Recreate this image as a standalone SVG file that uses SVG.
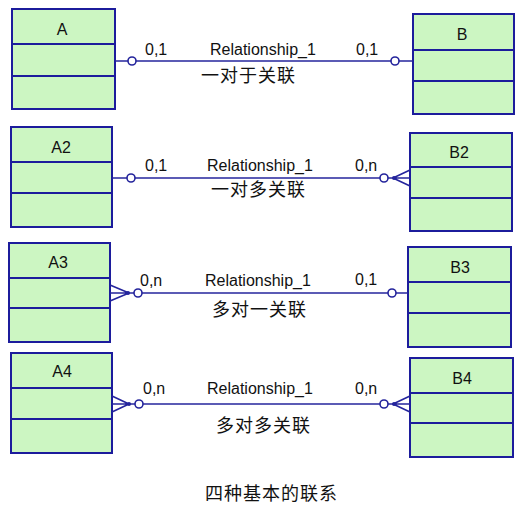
<svg xmlns="http://www.w3.org/2000/svg" width="520" height="513" viewBox="0 0 520 513">
<style>
.box{fill:#ccf6c2;stroke:#1c1c9c;stroke-width:2}
.div{stroke:#1c1c9c;stroke-width:2}
.lbl{font-family:"Liberation Sans",Arial,sans-serif;font-size:16px;fill:#111;text-anchor:middle}
.t{font-family:"Liberation Sans",Arial,sans-serif;font-size:16px;fill:#111}
.cn{font-family:"Noto Sans CJK SC",sans-serif;font-size:18px;fill:#111;letter-spacing:1px}
.ln{stroke:#24249c;stroke-width:1.6;fill:none}
.o{fill:#fff;stroke:#24249c;stroke-width:1.6}
.d{fill:#24249c}
</style>
<rect width="520" height="513" fill="#fff"/>
<g id="A"><rect class="box" x="12" y="9" width="103" height="100"/><line class="div" x1="12" y1="44" x2="115" y2="44"/><line class="div" x1="12" y1="76" x2="115" y2="76"/><text class="lbl" x="62" y="35">A</text></g>
<g id="B"><rect class="box" x="413" y="14" width="101" height="100"/><line class="div" x1="413" y1="50" x2="514" y2="50"/><line class="div" x1="413" y1="81" x2="514" y2="81"/><text class="lbl" x="462" y="40">B</text></g>
<g id="A2"><rect class="box" x="11" y="127" width="101" height="100"/><line class="div" x1="11" y1="162" x2="112" y2="162"/><line class="div" x1="11" y1="193" x2="112" y2="193"/><text class="lbl" x="61" y="153">A2</text></g>
<g id="B2"><rect class="box" x="410" y="133" width="102" height="98"/><line class="div" x1="410" y1="167" x2="512" y2="167"/><line class="div" x1="410" y1="198" x2="512" y2="198"/><text class="lbl" x="459" y="158">B2</text></g>
<g id="A3"><rect class="box" x="9" y="243" width="101" height="99"/><line class="div" x1="9" y1="278" x2="110" y2="278"/><line class="div" x1="9" y1="308" x2="110" y2="308"/><text class="lbl" x="58" y="268">A3</text></g>
<g id="B3"><rect class="box" x="408" y="247" width="103" height="100"/><line class="div" x1="408" y1="282" x2="511" y2="282"/><line class="div" x1="408" y1="313" x2="511" y2="313"/><text class="lbl" x="460" y="273">B3</text></g>
<g id="A4"><rect class="box" x="11" y="353" width="101" height="100"/><line class="div" x1="11" y1="388" x2="112" y2="388"/><line class="div" x1="11" y1="419" x2="112" y2="419"/><text class="lbl" x="62" y="377">A4</text></g>
<g id="B4"><rect class="box" x="410" y="358" width="103" height="99"/><line class="div" x1="410" y1="393" x2="513" y2="393"/><line class="div" x1="410" y1="423" x2="513" y2="423"/><text class="lbl" x="462" y="384">B4</text></g>
<g id="connectors">
<line class="ln" x1="115" y1="61" x2="413" y2="61"/>
<circle class="o" cx="132" cy="61" r="4"/>
<circle class="o" cx="395" cy="61" r="4"/>
<line class="ln" x1="112" y1="178" x2="393" y2="178"/>
<path class="ln" d="M393 178 L410 170 M393 178 L410 178 M393 178 L410 186"/>
<circle class="d" cx="394" cy="178" r="2"/>
<circle class="o" cx="131" cy="178" r="4"/>
<circle class="o" cx="384" cy="178" r="4"/>
<line class="ln" x1="129" y1="293" x2="408" y2="293"/>
<path class="ln" d="M129 293 L110 285 M129 293 L110 293 M129 293 L110 301"/>
<circle class="d" cx="128" cy="293" r="2"/>
<circle class="o" cx="138" cy="293" r="4"/>
<circle class="o" cx="392" cy="293" r="4"/>
<line class="ln" x1="129" y1="404" x2="393" y2="404"/>
<path class="ln" d="M129 404 L112 396 M129 404 L112 404 M129 404 L112 412"/>
<path class="ln" d="M393 404 L410 396 M393 404 L410 404 M393 404 L410 412"/>
<circle class="d" cx="129" cy="404" r="2"/>
<circle class="d" cx="394" cy="404" r="2"/>
<circle class="o" cx="139" cy="404" r="4"/>
<circle class="o" cx="384" cy="404" r="4"/>
</g>
<g id="labels">
<text class="t" x="145" y="55">0,1</text>
<text class="t" x="210" y="55">Relationship_1</text>
<text class="t" x="356" y="55">0,1</text>
<text class="cn" x="201" y="82">一对于关联</text>
<text class="t" x="145" y="171">0,1</text>
<text class="t" x="207" y="171">Relationship_1</text>
<text class="t" x="355" y="171">0,n</text>
<text class="cn" x="211" y="196">一对多关联</text>
<text class="t" x="140" y="286">0,n</text>
<text class="t" x="205" y="286">Relationship_1</text>
<text class="t" x="355" y="285">0,1</text>
<text class="cn" x="212" y="316">多对一关联</text>
<text class="t" x="143" y="394">0,n</text>
<text class="t" x="207" y="394">Relationship_1</text>
<text class="t" x="355" y="394">0,n</text>
<text class="cn" x="216" y="432">多对多关联</text>
<text class="cn" x="205" y="500">四种基本的联系</text>
</g>
</svg>
